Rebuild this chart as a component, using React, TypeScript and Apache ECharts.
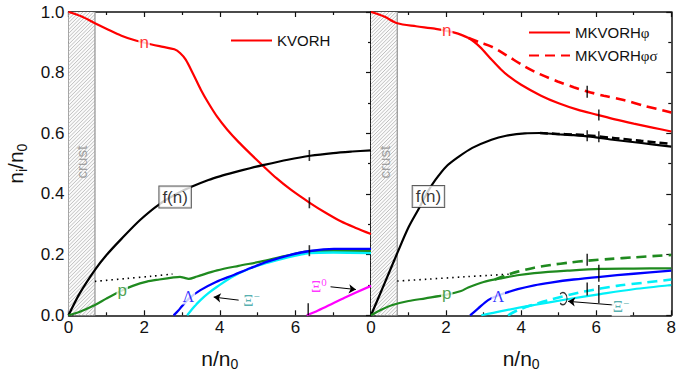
import React, { useEffect, useRef } from 'react';
import * as echarts from 'echarts';

// ---------- data: left panel (KVORH) ----------
const kvN = [[0,1.0],[0.35,0.985],[0.7,0.963],[1.0,0.945],[1.4,0.922],[1.8,0.905],[2.2,0.893],[2.5,0.885],[2.8,0.877],[2.95,0.865],[3.1,0.843],[3.3,0.795],[3.5,0.744],[3.7,0.70],[3.93,0.655],[4.2,0.612],[4.5,0.571],[4.8,0.534],[5.17,0.49],[5.5,0.452],[5.88,0.414],[6.39,0.37],[6.8,0.338],[7.2,0.31],[7.6,0.288],[8,0.268]];
const kvF = [[0,0],[0.3,0.073],[0.7,0.15],[1.0,0.198],[1.4,0.252],[1.9,0.315],[2.4,0.366],[2.9,0.403],[3.3,0.426],[3.7,0.446],[4.0,0.458],[4.4,0.472],[4.8,0.485],[5.17,0.496],[5.8,0.513],[6.39,0.526],[7.0,0.535],[7.5,0.54],[8,0.544]];
const kvDot = [[0.7,0.112],[1.5,0.121],[2.2,0.129],[2.75,0.136]];
const kvP = [[0,0],[0.3,0.012],[0.7,0.034],[1.0,0.055],[1.4,0.081],[1.7,0.097],[2.07,0.111],[2.4,0.118],[2.78,0.125],[2.95,0.127],[3.05,0.124],[3.18,0.12],[3.4,0.128],[3.93,0.148],[4.5,0.163],[5.08,0.177],[5.6,0.192],[6.14,0.207],[6.39,0.212],[7.0,0.213],[8,0.212]];
const kvL = [[2.78,0],[2.9,0.015],[3.0,0.03],[3.2,0.057],[3.49,0.083],[3.9,0.11],[4.37,0.133],[4.8,0.155],[5.26,0.177],[5.8,0.197],[6.39,0.212],[7.02,0.219],[8,0.219]];
const kvXm = [[3.14,0],[3.3,0.025],[3.49,0.05],[3.7,0.073],[3.93,0.094],[4.3,0.125],[4.81,0.155],[5.25,0.173],[5.7,0.188],[6.39,0.205],[7,0.207],[8,0.205]];
const kvX0 = [[6.3,0],[6.6,0.016],[7.0,0.04],[7.3,0.058],[8,0.097]];
const kvMax = [[6.37,0.527],[6.37,0.371],[6.37,0.213],[6.34,0.02]];

// ---------- data: right panel (MKVORH phi / phi-sigma) ----------
const mkN = [[0,1.0],[0.35,0.985],[0.7,0.963],[1.2,0.953],[1.7,0.945],[2.2,0.933],[2.6,0.914],[2.9,0.885],[3.21,0.843],[3.45,0.812],[3.65,0.79],[4.0,0.76],[4.53,0.724],[5.0,0.699],[5.5,0.678],[6.03,0.661],[6.5,0.646],[7.0,0.632],[7.5,0.619],[8,0.606]];
const mksN = [[2.6,0.914],[2.9,0.9],[3.21,0.886],[3.6,0.858],[4.1,0.82],[4.5,0.795],[4.97,0.771],[5.4,0.752],[5.76,0.738],[6.2,0.724],[6.73,0.71],[7.3,0.69],[8,0.669]];
const mkF = [[0,0],[0.35,0.102],[0.7,0.205],[1.0,0.29],[1.28,0.353],[1.5,0.405],[1.72,0.447],[2.0,0.49],[2.34,0.523],[2.7,0.552],[3.21,0.579],[3.6,0.592],[4.1,0.6],[4.5,0.601],[4.97,0.597],[5.4,0.594],[5.85,0.589],[6.5,0.578],[7.2,0.568],[8,0.556]];
const mksF = [[4.5,0.601],[4.97,0.598],[5.4,0.596],[5.78,0.593],[6.5,0.584],[7.2,0.575],[8,0.565]];
const mkDot = [[0.7,0.113],[1.5,0.119],[2.5,0.127],[3.2,0.132],[3.74,0.136]];
const mkP = [[0,0],[0.3,0.02],[0.57,0.034],[1.0,0.047],[1.45,0.056],[2.02,0.068],[2.4,0.08],[2.59,0.092],[3.0,0.11],[3.47,0.122],[3.9,0.132],[4.35,0.139],[5.23,0.147],[6.11,0.153],[7,0.154],[8,0.155]];
const mksP = [[3.3,0.118],[3.6,0.132],[3.91,0.144],[4.35,0.157],[4.79,0.166],[5.3,0.174],[5.76,0.18],[6.4,0.186],[6.99,0.191],[8,0.199]];
const mkL = [[2.64,0],[2.85,0.022],[3.12,0.05],[3.4,0.066],[3.91,0.086],[4.35,0.099],[4.79,0.108],[5.4,0.118],[6.11,0.127],[7,0.137],[8,0.147]];
const mkXm = [[2.94,0],[3.47,0.014],[4.35,0.034],[5.23,0.053],[6.11,0.07],[6.99,0.086],[8,0.1]];
const mksXm = [[3.65,0],[3.91,0.017],[4.35,0.036],[4.79,0.052],[5.67,0.078],[6.55,0.097],[7.3,0.108],[8,0.118]];
const mkMaxS = [[5.76,0.737],[5.76,0.592],[5.76,0.183],[5.76,0.087]];
const mkMaxSol = [[6.07,0.66],[6.07,0.589],[6.07,0.139],[6.07,0.07]];

const xMin = 0, xMax = 8, xStep = 2;
const yMin = 0, yMax = 1, yStep = 0.2;
const crustEdge = 0.7;

const FONT = '"Liberation Sans", Arial, Helvetica, sans-serif';
const SERIF = '"Liberation Serif", "DejaVu Serif", "Times New Roman", serif';
const RED = '#ff0000', BLACK = '#000000', GREEN = '#1f8a1f', BLUE = '#0000ff', CYAN = '#00f0f8', MAGENTA = '#ff00ff', TEAL = '#2a9a9a';

const gridBox = [
  { left: 68.5, top: 12, width: 302.5, height: 303.3 },
  { left: 371, top: 12, width: 304, height: 303.3 },
];

function xAxes(gi: number) {
  const common = {
    gridIndex: gi, type: 'value', min: xMin, max: xMax, interval: xStep,
    axisLine: { show: true, onZero: false, lineStyle: { color: '#111', width: 1.5 } },
    axisTick: { show: true, inside: true, length: 5, lineStyle: { color: '#111', width: 1.2 } },
    minorTick: { show: true, splitNumber: 2, length: 3, lineStyle: { color: '#111', width: 1.2 } },
    splitLine: { show: false }, minorSplitLine: { show: false },
  };
  return [
    {
      ...common, position: 'bottom',
      axisLabel: {
        show: true, fontFamily: FONT, fontSize: 17, color: '#111', margin: 4,
        formatter: (v: number) => (gi === 0 && v === xMax ? '' : String(v)),
      },
      name: '{a|n/n}{s|0}', nameLocation: 'middle', nameGap: 30,
      nameTextStyle: {
        rich: {
          a: { fontFamily: FONT, fontSize: 21, color: '#111' },
          s: { fontFamily: FONT, fontSize: 14, color: '#111', verticalAlign: 'bottom', padding: [12, 0, 0, 0] },
        },
      },
    },
    { ...common, position: 'top', axisLabel: { show: false } },
  ];
}

function yAxes(gi: number) {
  const common = {
    gridIndex: gi, type: 'value', min: yMin, max: yMax, interval: yStep,
    axisLine: { show: true, onZero: false, lineStyle: { color: '#111', width: 1.5 } },
    axisTick: { show: true, inside: true, length: 5, lineStyle: { color: '#111', width: 1.2 } },
    minorTick: { show: true, splitNumber: 2, length: 3, lineStyle: { color: '#111', width: 1.2 } },
    splitLine: { show: false }, minorSplitLine: { show: false },
  };
  const left: any = {
    ...common, position: 'left',
    axisLabel: {
      show: gi === 0, fontFamily: FONT, fontSize: 17, color: '#111', margin: 4,
      formatter: (v: number) => v.toFixed(1),
    },
  };
  if (gi === 0) {
    left.name = '{a|n}{s|i}{a|/n}{s|0}';
    left.nameLocation = 'middle';
    left.nameGap = 40;
    left.nameTextStyle = {
      rich: {
        a: { fontFamily: FONT, fontSize: 21, color: '#111' },
        s: { fontFamily: FONT, fontSize: 14, color: '#111', verticalAlign: 'bottom', padding: [12, 0, 0, 0] },
      },
    };
  }
  return [left, { ...common, position: 'right', axisLabel: { show: false } }];
}

function line(name: string, data: number[][], color: string, gi: number, type: any = 'solid', width = 2.2) {
  return {
    type: 'line', name, data, xAxisIndex: gi * 2, yAxisIndex: gi * 2,
    symbol: 'none', showSymbol: false, smooth: 0.3, z: 3,
    lineStyle: { color, width, type }, itemStyle: { color },
    emphasis: { disabled: true },
  };
}

function crust(gi: number) {
  return {
    type: 'custom', xAxisIndex: gi * 2, yAxisIndex: gi * 2, z: 1, silent: true,
    data: [[xMin, crustEdge]],
    renderItem: (params: any, api: any) => {
      const p0 = api.coord([xMin, yMax]);
      const p1 = api.coord([crustEdge, yMin]);
      const x0 = p0[0], y0 = p0[1], x1 = p1[0], y1 = p1[1];
      const children: any[] = [
        { type: 'rect', shape: { x: x0, y: y0, width: x1 - x0, height: y1 - y0 }, style: { fill: '#fbfbfb' } },
      ];
      const step = 3.6;
      for (let c = x0 + y0; c <= x1 + y1; c += step) {
        const xs = Math.max(x0, c - y1);
        const xe = Math.min(x1, c - y0);
        if (xe <= xs) continue;
        children.push({
          type: 'line', shape: { x1: xs, y1: c - xs, x2: xe, y2: c - xe },
          style: { stroke: '#b9b9b9', lineWidth: 0.9 },
        });
      }
      children.push({ type: 'line', shape: { x1: x1, y1: y0, x2: x1, y2: y1 }, style: { stroke: '#999', lineWidth: 1.3 } });
      const tc = api.coord([crustEdge / 2, 0.505]);
      children.push({
        type: 'text', x: tc[0], y: tc[1], rotation: Math.PI / 2,
        style: { text: 'crust', fill: '#a0a0a0', font: `15px ${FONT}`, align: 'center', verticalAlign: 'middle' },
      });
      return { type: 'group', children };
    },
  };
}

function tag(value: number[], text: string, color: string, extra: any = {}) {
  return {
    value,
    label: {
      show: true, position: 'inside', formatter: text, color,
      fontFamily: FONT, fontSize: 17, backgroundColor: '#fff', padding: [0, 1, 0, 1], ...extra,
    },
  };
}

function greek(value: number[], main: string, sup: string, color: string) {
  return {
    value,
    label: {
      show: true, position: 'inside', formatter: sup ? `{g|${main}}{s|${sup}}` : `{g|${main}}`, color,
      backgroundColor: '#fff', padding: [0, 1, 0, 1],
      rich: {
        g: { fontFamily: SERIF, fontSize: 16, color },
        s: { fontFamily: SERIF, fontSize: 11, color, verticalAlign: 'top', padding: [0, 0, 8, 0] },
      },
    },
  };
}

function annotations(gi: number, items: any[], arrows: number[][][]) {
  return {
    type: 'scatter', xAxisIndex: gi * 2, yAxisIndex: gi * 2, z: 6, silent: true,
    symbolSize: 0, data: items,
    markLine: {
      silent: true, symbol: ['none', 'arrow'], symbolSize: 7,
      lineStyle: { color: '#000', width: 1, type: 'solid' }, label: { show: false },
      data: arrows.map(([a, b]) => [{ coord: a }, { coord: b }]),
    },
  };
}

function maxTicks(gi: number, pts: number[][], heights: number[]) {
  return {
    type: 'scatter', xAxisIndex: gi * 2, yAxisIndex: gi * 2, z: 7, silent: true,
    symbol: 'rect',
    data: pts.map((p, i) => ({ value: p, symbolSize: [1.6, heights[i]] })),
    itemStyle: { color: '#000' },
  };
}

export default function App() {
  const ref = useRef<HTMLDivElement>(null);
  useEffect(() => {
    const chart = echarts.init(ref.current!, null, { renderer: 'svg' });
    const fBox = { color: '#000', borderColor: '#333', borderWidth: 1, padding: [3, 3, 1, 3] };
    const legendCommon = {
      orient: 'vertical', itemWidth: 41, itemHeight: 14, padding: 0, selectedMode: false,
      itemStyle: { opacity: 0, borderWidth: 0 },
    };
    const option: any = {
      animation: false,
      backgroundColor: '#fff',
      textStyle: { fontFamily: FONT },
      grid: gridBox.map((g) => ({ ...g, containLabel: false })),
      xAxis: [...xAxes(0), ...xAxes(1)],
      yAxis: [...yAxes(0), ...yAxes(1)],
      legend: [
        {
          ...legendCommon,
          data: ['KVORH'], left: 230, top: 33, itemGap: 6,
          textStyle: { fontFamily: FONT, fontSize: 15, color: '#111' },
        },
        {
          ...legendCommon,
          data: ['MKVORHφ', 'MKVORHφσ'], left: 528, top: 25, itemGap: 8,
          formatter: (n: string) => `{a|MKVORH}{g|${n.slice(6)}}`,
          textStyle: {
            fontFamily: FONT, fontSize: 15, color: '#111',
            rich: { a: { fontFamily: FONT, fontSize: 15, color: '#111' }, g: { fontFamily: SERIF, fontSize: 15, color: '#111' } },
          },
        },
      ],
      series: [
        crust(0), crust(1),
        // left
        line('KVORH', kvN, RED, 0),
        line('kvF', kvF, BLACK, 0),
        line('kvDot', kvDot, BLACK, 0, [1.5, 4], 1.6),
        line('kvP', kvP, GREEN, 0),
        line('kvXm', kvXm, CYAN, 0, 'solid', 2.3),
        line('kvL', kvL, BLUE, 0, 'solid', 2.3),
        line('kvX0', kvX0, MAGENTA, 0),
        maxTicks(0, kvMax, [11, 11, 11, 12]),
        annotations(0, [
          tag([2.0, 0.9], 'n', RED),
          tag([1.42, 0.083], 'p', GREEN),
          tag([2.82, 0.39], 'f(n)', '#000', fBox),
          greek([3.17, 0.062], 'Λ', '', BLUE),
          greek([4.84, 0.05], 'Ξ', '−', TEAL),
          greek([6.62, 0.095], 'Ξ', '0', MAGENTA),
        ], [
          [[4.5, 0.05], [3.84, 0.06]],
          [[6.93, 0.094], [7.6, 0.085]],
        ]),
        // right
        line('MKVORHφ', mkN, RED, 1),
        line('MKVORHφσ', mksN, RED, 1, [10, 6], 2.6),
        line('mksF', mksF, BLACK, 1, [8, 4], 2.6),
        line('mkF', mkF, BLACK, 1),
        line('mkDot', mkDot, BLACK, 1, [1.5, 4], 1.6),
        line('mkP', mkP, GREEN, 1),
        line('mksP', mksP, GREEN, 1, [10, 6], 2.6),
        line('mkL', mkL, BLUE, 1, 'solid', 2.3),
        line('mkXm', mkXm, CYAN, 1),
        line('mksXm', mksXm, CYAN, 1, [10, 6], 2.6),
        maxTicks(1, mkMaxS, [12, 11, 12, 13]),
        maxTicks(1, mkMaxSol, [11, 11, 17, 18]),
        annotations(1, [
          tag([2.02, 0.938], 'n', RED),
          tag([2.02, 0.073], 'p', GREEN),
          tag([1.53, 0.392], 'f(n)', '#000', fBox),
          greek([3.39, 0.062], 'Λ', '', BLUE),
          greek([6.66, 0.028], 'Ξ', '−', TEAL),
          {
            value: [5.13, 0.055], symbol: 'path://M1,2 C5,-1 9,2 9,6 C9,10 5,13 1,10',
            symbolSize: [7, 12],
            itemStyle: { color: 'rgba(0,0,0,0)', borderColor: '#000', borderWidth: 1.2 },
          },
        ], [
          [[6.46, 0.034], [5.25, 0.046]],
        ]),
      ],
    };
    chart.setOption(option);
    return () => chart.dispose();
  }, []);
  return <div ref={ref} style={{ position: 'absolute', left: 0, top: 0, width: 679, height: 379 }} />;
}
